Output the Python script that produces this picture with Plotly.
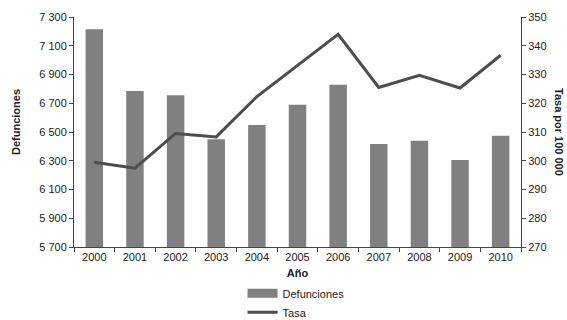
import plotly.graph_objects as go

years = ["2000", "2001", "2002", "2003", "2004", "2005",
         "2006", "2007", "2008", "2009", "2010"]
defunciones = [7214, 6785, 6755, 6449, 6549, 6690, 6829, 6417, 6440, 6305, 6474]
tasa = [299.5, 297.4, 309.5, 308.3, 322.3, 333.3, 344.0, 325.5, 329.7, 325.3, 336.7]

BAR_COLOR = "#808080"
LINE_COLOR = "#4d4d4d"
AXIS_COLOR = "#444444"
TEXT_COLOR = "#222222"
FONT = "Liberation Sans, Arial, sans-serif"

fig = go.Figure()

fig.add_trace(go.Bar(
    x=years, y=defunciones, name="Defunciones",
    marker=dict(color=BAR_COLOR, line=dict(width=0)),
    legendgroup="def", showlegend=False, yaxis="y",
))
# wide grey swatch for the bar series in the legend
fig.add_trace(go.Scatter(
    x=[None], y=[None], mode="lines", name="Defunciones",
    line=dict(color=BAR_COLOR, width=9),
    legendgroup="def", yaxis="y",
))
fig.add_trace(go.Scatter(
    x=years, y=tasa, name="Tasa", mode="lines",
    line=dict(color=LINE_COLOR, width=3),
    yaxis="y2",
))

axis_common = dict(
    showline=True, linecolor=AXIS_COLOR, linewidth=1,
    ticks="outside", ticklen=4, tickcolor=AXIS_COLOR,
    showgrid=False, zeroline=False,
    tickfont=dict(family=FONT, size=11, color=TEXT_COLOR),
)

fig.update_layout(
    width=567, height=320,
    margin=dict(l=74, r=46, t=17, b=73, autoexpand=False),
    paper_bgcolor="white", plot_bgcolor="white",
    separators=", ",
    bargap=0.57,
    font=dict(family=FONT, size=11, color=TEXT_COLOR),
    xaxis=dict(
        type="category", tickson="boundaries",
        title=dict(text="<b>Año</b>", standoff=7,
                   font=dict(family=FONT, size=11, color=TEXT_COLOR)),
        **axis_common,
    ),
    yaxis=dict(
        range=[5700, 7300], tick0=5700, dtick=200, tickformat=",",
        **axis_common,
    ),
    yaxis2=dict(
        range=[270, 350], tick0=270, dtick=10, overlaying="y", side="right",
        **axis_common,
    ),
    legend=dict(
        orientation="v", x=0.377, y=-0.138, xanchor="left", yanchor="top",
        itemwidth=30, tracegroupgap=0,
        font=dict(family=FONT, size=11, color=TEXT_COLOR),
        bgcolor="rgba(0,0,0,0)",
    ),
    annotations=[
        dict(text="<b>Defunciones</b>", textangle=-90, xref="paper", yref="paper",
             x=-0.13, y=0.543, xanchor="center", yanchor="middle", showarrow=False,
             font=dict(family=FONT, size=11, color=TEXT_COLOR)),
        dict(text="<b>Tasa por 100 000</b>", textangle=90, xref="paper", yref="paper",
             x=(559 - 74) / 447, y=0.5, xanchor="center", yanchor="middle",
             showarrow=False,
             font=dict(family=FONT, size=11, color=TEXT_COLOR)),
    ],
)

fig.write_html("out.html")
